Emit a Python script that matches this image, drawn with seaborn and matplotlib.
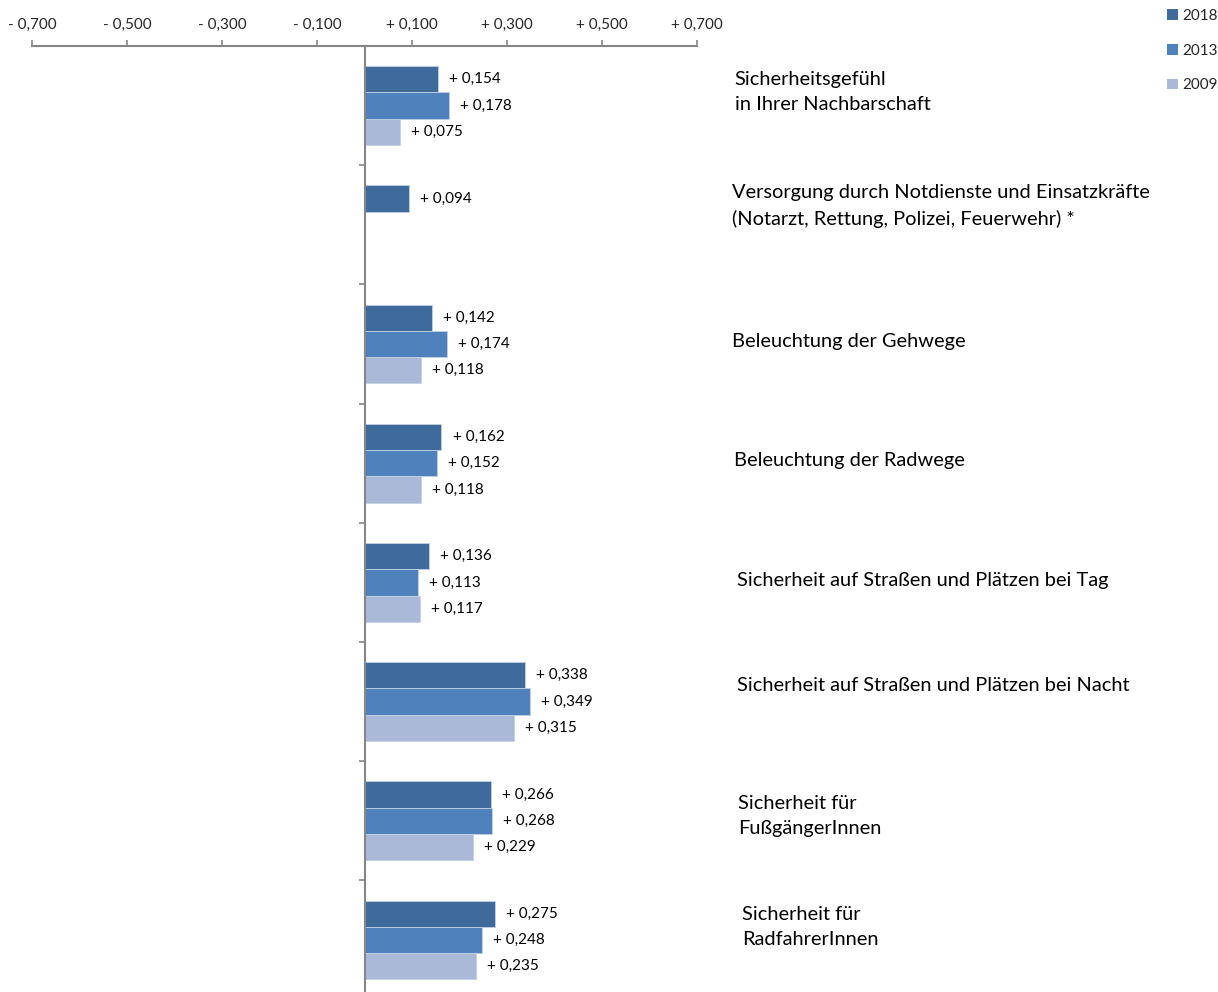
import numpy as np
import pandas as pd
import matplotlib
matplotlib.use("Agg")
import matplotlib.pyplot as plt
from matplotlib.patches import Patch
import seaborn as sns

# --- data -------------------------------------------------------------
categories = [
    "Sicherheitsgefühl\nin Ihrer Nachbarschaft",
    "Versorgung durch Notdienste und Einsatzkräfte\n(Notarzt, Rettung, Polizei, Feuerwehr) *",
    "Beleuchtung der Gehwege",
    "Beleuchtung der Radwege",
    "Sicherheit auf Straßen und Plätzen bei Tag",
    "Sicherheit auf Straßen und Plätzen bei Nacht",
    "Sicherheit für\nFußgängerInnen",
    "Sicherheit für\nRadfahrerInnen",
]
years = ["2018", "2013", "2009"]
values_2018 = [0.154, 0.094, 0.142, 0.162, 0.136, 0.338, 0.266, 0.275]
values_2013 = [0.178, np.nan, 0.174, 0.152, 0.113, 0.349, 0.268, 0.248]
values_2009 = [0.075, np.nan, 0.118, 0.118, 0.117, 0.315, 0.229, 0.235]
x_ticks = [-0.7, -0.5, -0.3, -0.1, 0.1, 0.3, 0.5, 0.7]

colors = ["#3E6A9C", "#4F81BD", "#AAB9D7"]

# --- layout of the category captions (x in data units, y offset in category units)
label_x = [0.779, 0.773, 0.773, 0.777, 0.785, 0.785, 0.787, 0.794]
label_dy = [-0.114, -0.158, -0.025, -0.02, -0.013, -0.133, -0.04, -0.107]

df = pd.DataFrame({
    "Kategorie": categories * 3,
    "Jahr": [y for y in years for _ in categories],
    "Wert": values_2018 + values_2013 + values_2009,
})

sns.set_style("white")
plt.rcParams["font.family"] = ["Lato", "DejaVu Sans"]

W, H = 1218, 992
fig = plt.figure(figsize=(W / 100, H / 100), dpi=100)
ax_top_px = 46
ax = fig.add_axes([32 / W, 0, 665 / W, (H - ax_top_px) / H])

sns.barplot(
    data=df, y="Kategorie", x="Wert", hue="Jahr", order=categories,
    hue_order=years, palette=colors, saturation=1, orient="h", width=0.66,
    edgecolor="#c3d0e3", linewidth=0.6, legend=False, ax=ax,
)

cat_px = 119.2
ax.set_xlim(-0.7, 0.7)
ax.set_ylim(-0.5 + (H - ax_top_px) / cat_px, -0.5)


def fmt(v):
    sign = "+" if v >= 0 else "-"
    return f"{sign} {abs(v):.3f}".replace(".", ",")


# value labels next to each bar
for cont in ax.containers:
    labels = []
    for bar in cont:
        w = bar.get_width()
        labels.append("" if np.isnan(w) else fmt(w))
    ax.bar_label(cont, labels=labels, padding=8, fontsize=11, color="#000000")

# category captions to the right of the plot area
for i, cat in enumerate(categories):
    ax.text(label_x[i], i + label_dy[i], cat, ha="left", va="center",
            fontsize=14.4, linespacing=1.6, color="#000000", clip_on=False)

# axes styling: value axis on top, category axis through zero
axis_grey = "#868686"
ax.xaxis.tick_top()
ax.set_xticks(x_ticks)
ax.set_xticklabels([fmt(t) for t in x_ticks], fontsize=11)
ax.tick_params(axis="x", direction="out", length=4, width=1.2, color=axis_grey,
               pad=6, top=True, bottom=False)
ax.set_yticks(np.arange(0.5, len(categories) - 1, 1.0))
ax.set_yticklabels([])
ax.tick_params(axis="y", direction="out", length=4, width=1.2, color=axis_grey, left=True)
ax.set_xlabel("")
ax.set_ylabel("")
for side in ["bottom", "right"]:
    ax.spines[side].set_visible(False)
ax.spines["top"].set_color(axis_grey)
ax.spines["top"].set_linewidth(1.5)
ax.spines["left"].set_position(("data", 0))
ax.spines["left"].set_color(axis_grey)
ax.spines["left"].set_linewidth(1.5)

# legend in the top right corner
handles = [Patch(facecolor=c, edgecolor="none") for c in colors]
fig.legend(handles, years, loc="upper right", bbox_to_anchor=(1.0, 1 - 9 / H),
           frameon=False, fontsize=11, handlelength=0.7, handleheight=0.7,
           handletextpad=0.3, labelspacing=1.35, borderaxespad=0, borderpad=0)

fig.savefig("out.png", dpi=100)
